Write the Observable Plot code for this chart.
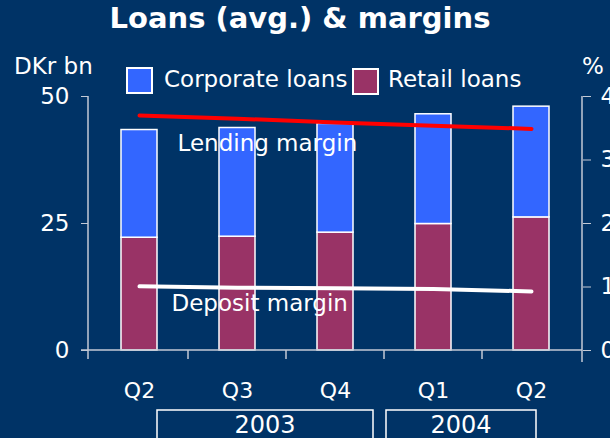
<!DOCTYPE html>
<html><head><meta charset="utf-8">
<script src="https://cdn.jsdelivr.net/npm/d3@7"></script>
<script src="https://cdn.jsdelivr.net/npm/@observablehq/plot@0.6"></script>
<style>
html,body{margin:0;padding:0;background:#003366;}
#wrap{position:relative;width:610px;height:438px;overflow:hidden;background:#003366;font-family:"DejaVu Sans",sans-serif;color:#fff;}
#wrap svg{position:absolute;left:0;top:0;}
.abs{position:absolute;white-space:nowrap;line-height:1;}
.title{left:0;width:600px;top:4px;text-align:center;font-weight:bold;font-size:29px;}
.sw{position:absolute;width:23px;height:23px;border:2px solid #fff;}
.lt{font-size:23px;}
</style></head>
<body>
<div id="wrap">
  <div class="abs title">Loans (avg.) &amp; margins</div>
  <div class="abs lt" style="left:14px;top:55px;">DKr bn</div>
  <div class="abs lt" style="left:582px;top:55px;">%</div>
  <div class="sw" style="left:126px;top:67px;background:#3366ff;"></div>
  <div class="abs lt" id="l1" style="left:164px;top:68px;">Corporate loans</div>
  <div class="sw" style="left:352px;top:68px;background:#993366;"></div>
  <div class="abs lt" id="l2" style="left:388px;top:68px;">Retail loans</div>
</div>
<script>
// Data
const quarters = ["Q2", "Q3", "Q4", "Q1", "Q2"];
const years = ["2003", "2003", "2003", "2004", "2004"];
const retailLoans = [22.2, 22.4, 23.2, 24.9, 26.2];      // DKr bn
const corporateLoans = [21.2, 21.4, 21.4, 21.6, 21.8];   // DKr bn
const lendingMargin = [3.70, 3.65, 3.59, 3.54, 3.49];   // %
const depositMargin = [1.01, 0.99, 0.98, 0.97, 0.93];   // %
const leftTicks = [0, 25, 50];
const rightTicks = [0, 1, 2, 3, 4];
const yearGroups = ["2003", "2004"];

const seriesNames = ["Corporate loans", "Retail loans"];
const seriesColors = ["#3366ff", "#993366"];

const keys = quarters.map((q, i) => q + " " + years[i]);
const bars = [];
keys.forEach((k, i) => {
  bars.push({key: k, series: "Retail loans", value: retailLoans[i]});
  bars.push({key: k, series: "Corporate loans", value: corporateLoans[i]});
});
const pctScale = 50 / 4; // right axis 0-4 % maps to left 0-50
const lines = keys.map((k, i) => ({key: k, lending: lendingMargin[i] * pctScale, deposit: depositMargin[i] * pctScale}));

const axisColor = "#c3cad6";

function decorations(index, scales, values, dimensions) {
  const x = scales.x;
  const {width, height, marginLeft, marginRight, marginTop, marginBottom} = dimensions;
  const bw = typeof x.bandwidth === "function" ? x.bandwidth() : 0;
  const step = x(keys[1]) - x(keys[0]);
  const left = marginLeft, right = width - marginRight, top = marginTop, bottom = height - marginBottom;
  const g = d3.create("svg:g").attr("fill", "none").attr("stroke", axisColor).attr("stroke-width", 1.5);
  // axis lines
  g.append("line").attr("x1", left).attr("x2", left).attr("y1", top).attr("y2", bottom + 9);
  g.append("line").attr("x1", right).attr("x2", right).attr("y1", top).attr("y2", bottom + 12);
  g.append("line").attr("x1", left - 7).attr("x2", right).attr("y1", bottom).attr("y2", bottom);
  // between-band ticks
  for (let i = 0; i < keys.length - 1; i++) {
    const bx = x(keys[i]) + bw + (step - bw) / 2;
    g.append("line").attr("x1", bx).attr("x2", bx).attr("y1", bottom).attr("y2", bottom + 9);
  }
  // year group boxes
  const boundary34 = x(keys[2]) + bw + (step - bw) / 2;
  const boxes = [
    {label: yearGroups[0], x1: x(keys[0]) + bw, x2: boundary34 - 11},
    {label: yearGroups[1], x1: boundary34 + 2, x2: x(keys[4]) + bw - 13}
  ];
  for (const b of boxes) {
    g.append("rect").attr("x", b.x1).attr("y", bottom + 60).attr("width", b.x2 - b.x1).attr("height", 40)
      .attr("stroke", "#ffffff").attr("stroke-width", 1.5);
    g.append("text").attr("x", (b.x1 + b.x2) / 2).attr("y", bottom + 83).attr("fill", "#ffffff").attr("stroke", "none")
      .attr("text-anchor", "middle").attr("font-size", 24).text(b.label);
  }
  return g.node();
}

const chart = Plot.plot({
  width: 610,
  height: 438,
  marginLeft: 88,
  marginRight: 28,
  marginTop: 96,
  marginBottom: 88,
  style: {background: "transparent", color: "#ffffff", fontFamily: "DejaVu Sans, sans-serif", fontSize: "22px"},
  x: {domain: keys, paddingInner: 0.635, paddingOuter: 0.3175, axis: null},
  y: {domain: [0, 50], axis: null},
  color: {domain: seriesNames, range: seriesColors},
  marks: [
    Plot.barY(bars, {x: "key", y: "value", fill: "series", order: ["Retail loans", "Corporate loans"], stroke: "#ffffff", strokeWidth: 1.5}),
    Plot.line(lines, {x: "key", y: "lending", stroke: "#ff0000", strokeWidth: 4}),
    Plot.line(lines, {x: "key", y: "deposit", stroke: "#ffffff", strokeWidth: 4}),
    Plot.text(["Lending margin"], {x: [keys[0]], y: [lines[0].lending], text: d => d, textAnchor: "start", dx: 38, dy: 28, fill: "#ffffff", fontSize: 23}),
    Plot.text(["Deposit margin"], {x: [keys[0]], y: [lines[0].deposit], text: d => d, textAnchor: "start", dx: 32, dy: 17, fill: "#ffffff", fontSize: 23}),
    Plot.axisY({ticks: leftTicks, tickSize: 7, tickPadding: 12, stroke: axisColor, fill: "#ffffff", fontSize: 23, label: null, anchor: "left"}),
    Plot.axisY({ticks: rightTicks.map(t => t * pctScale), tickFormat: d => String(d / pctScale), tickSize: 8, tickPadding: 10, stroke: axisColor, fill: "#ffffff", fontSize: 23, label: null, anchor: "right"}),
    Plot.axisX({tickFormat: k => k.split(" ")[0], tickSize: 0, tickPadding: 32, fill: "#ffffff", fontSize: 22, label: null}),
    decorations
  ]
});
document.getElementById("wrap").prepend(chart);
</script>
</body></html>
